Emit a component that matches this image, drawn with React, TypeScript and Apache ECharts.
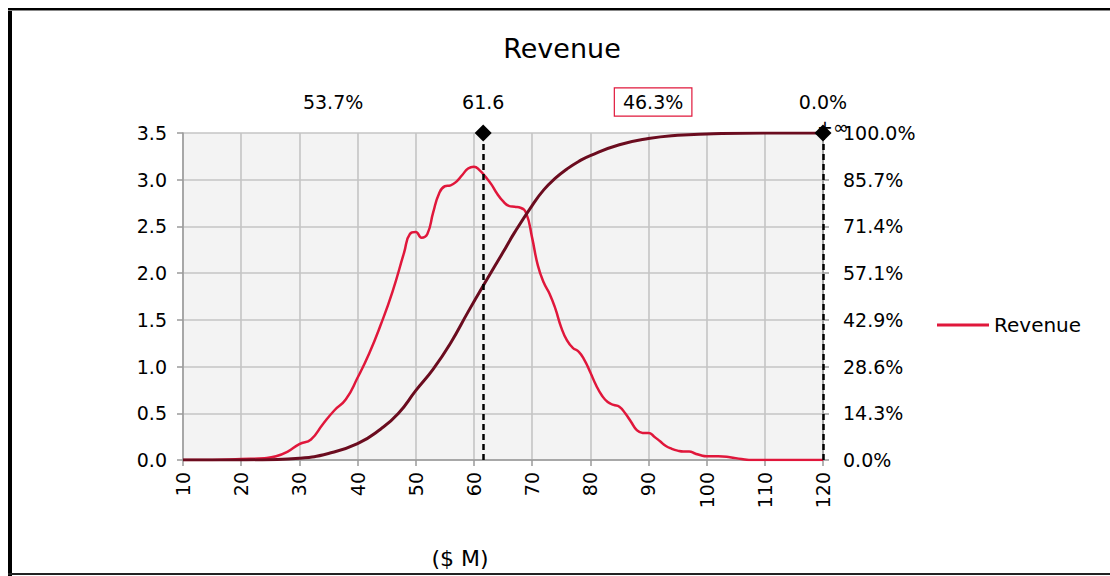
import React, { useEffect, useRef } from "react";
import * as echarts from "echarts";

// ---- data ----
const pdfX = [10, 15, 20, 24, 26, 28, 30, 32, 34, 36, 38, 40, 42, 44, 46, 48, 49, 50, 51, 52, 53, 54, 55, 56, 57, 58, 59, 60, 61, 62, 63, 64, 65, 66, 67, 68, 69, 70, 71, 72, 73, 74, 75, 76, 77, 78, 79, 80, 81, 82, 83, 84, 85, 86, 87, 88, 89, 90, 91, 92, 93, 94, 95, 96, 97, 98, 99, 100, 102, 104, 106, 108, 110, 115, 120];
const pdfY = [0, 0, 0.01, 0.02, 0.04, 0.09, 0.17, 0.22, 0.38, 0.53, 0.65, 0.88, 1.14, 1.45, 1.8, 2.22, 2.42, 2.44, 2.38, 2.42, 2.65, 2.85, 2.93, 2.94, 2.98, 3.05, 3.12, 3.14, 3.1, 3.03, 2.95, 2.85, 2.77, 2.72, 2.71, 2.7, 2.64, 2.38, 2.08, 1.9, 1.78, 1.62, 1.42, 1.28, 1.2, 1.16, 1.07, 0.94, 0.8, 0.69, 0.62, 0.59, 0.57, 0.5, 0.41, 0.32, 0.29, 0.29, 0.25, 0.2, 0.15, 0.12, 0.1, 0.09, 0.09, 0.07, 0.05, 0.04, 0.04, 0.03, 0.01, 0, 0, 0, 0];

const cdfX = [10, 20, 25, 30, 35, 40, 44, 47, 50, 53, 56, 59, 62, 65, 67, 70, 72, 74, 76, 78, 80, 85, 90, 95, 100, 110, 120];
const cdfY = [0, 0.02, 0.1, 0.5, 2.0, 5.0, 9.5, 14.2, 21.2, 27.8, 35.8, 45.3, 54.5, 63.5, 69.6, 77.8, 82.6, 86.2, 89.0, 91.3, 93.1, 96.4, 98.3, 99.3, 99.7, 100, 100];

const xMin = 10;
const xMax = 120;
const cutValue = 61.6;
const leftPct = "53.7%";
const rightPct = "46.3%";
const tailPct = "0.0%";
const leftTicks = { min: 0, max: 3.5, interval: 0.5 };
const rightTicks = { min: 0, max: 100, interval: 100 / 7 };

const FONT = "'DejaVu Sans', Verdana, sans-serif";
const RED = "#e0173b";
const DARK = "#6b0c1f";
const AXIS = "#9a9a9a";
const GRIDC = "#c4c4c4";

export default function App() {
  const ref = useRef<HTMLDivElement>(null);
  useEffect(() => {
    if (!ref.current) return;
    const chart = echarts.init(ref.current, undefined, { renderer: "svg" });
    const top = leftTicks.max;
    chart.setOption({
      animation: false,
      backgroundColor: "#ffffff",
      textStyle: { fontFamily: FONT },
      grid: {
        left: 183,
        right: 287,
        top: 133,
        bottom: 116,
        show: true,
        backgroundColor: "#f3f3f3",
        borderWidth: 0,
      },
      legend: {
        data: [{ name: "Revenue", icon: "rect" }],
        left: 937,
        top: 315,
        padding: 0,
        itemWidth: 52,
        itemHeight: 3,
        textStyle: { fontSize: 20, color: "#000", fontFamily: FONT },
      },
      xAxis: {
        type: "value",
        min: xMin,
        max: xMax,
        interval: 10,
        axisLine: { show: true, lineStyle: { color: AXIS, width: 1.5 } },
        axisTick: { show: true, length: 6, lineStyle: { color: AXIS, width: 1.5 } },
        splitLine: { show: true, lineStyle: { color: GRIDC, width: 1.6 } },
        axisLabel: { rotate: 90, margin: 12, fontSize: 19, color: "#000", fontFamily: FONT },
      },
      yAxis: [
        {
          type: "value",
          min: leftTicks.min,
          max: leftTicks.max,
          interval: leftTicks.interval,
          axisLine: { show: true, lineStyle: { color: AXIS, width: 1.5 } },
          axisTick: { show: true, length: 6, lineStyle: { color: AXIS, width: 1.5 } },
          splitLine: { show: true, lineStyle: { color: GRIDC, width: 1.6 } },
          axisLabel: {
            margin: 16,
            fontSize: 19,
            color: "#000",
            fontFamily: FONT,
            formatter: (v: number) => v.toFixed(1),
          },
        },
        {
          type: "value",
          min: rightTicks.min,
          max: rightTicks.max,
          interval: rightTicks.interval,
          position: "right",
          axisLine: { show: true, lineStyle: { color: AXIS, width: 1.5 } },
          axisTick: { show: true, length: 6, lineStyle: { color: AXIS, width: 1.5 } },
          splitLine: { show: false },
          axisLabel: {
            margin: 20,
            fontSize: 19,
            color: "#000",
            fontFamily: FONT,
            formatter: (v: number) => v.toFixed(1) + "%",
          },
        },
      ],
      series: [
        {
          name: "Revenue",
          type: "line",
          yAxisIndex: 0,
          smooth: true,
          symbol: "none",
          color: RED,
          lineStyle: { color: RED, width: 2.5 },
          data: pdfX.map((x, i) => [x, pdfY[i]]),
          z: 3,
        },
        {
          name: "Cumulative",
          type: "line",
          yAxisIndex: 1,
          smooth: true,
          symbol: "none",
          color: DARK,
          lineStyle: { color: DARK, width: 3 },
          data: cdfX.map((x, i) => [x, cdfY[i]]),
          z: 4,
        },
        {
          name: "markers",
          type: "scatter",
          yAxisIndex: 0,
          symbol: "diamond",
          symbolSize: 17,
          clip: false,
          itemStyle: { color: "#000", opacity: 1 },
          data: [
            [cutValue, top],
            [xMax, top],
          ],
          z: 10,
          markLine: {
            silent: true,
            symbol: "none",
            label: { show: false },
            lineStyle: { color: "#000", type: [6, 4], width: 2.5, opacity: 1 },
            data: [{ xAxis: cutValue }, { xAxis: xMax }],
            z: 9,
          },
        },
      ],
    });

    const px = (x: number, y: number) => chart.convertToPixel({ xAxisIndex: 0, yAxisIndex: 0 }, [x, y]) as number[];
    const labelY = px(xMin, top)[1] - 31;
    const topLabels = [
      { x: (xMin + cutValue) / 2, text: leftPct, boxed: false },
      { x: cutValue, text: String(cutValue), boxed: false },
      { x: (cutValue + xMax) / 2, text: rightPct, boxed: true },
      { x: xMax, text: tailPct, boxed: false },
    ];
    const corner = px(xMax, top);
    chart.setOption({
      graphic: [
        ...topLabels.map((l) => ({
          type: "text",
          x: px(l.x, top)[0],
          y: labelY,
          z: 20,
          style: {
            text: l.text,
            font: `19px ${FONT}`,
            fill: "#000",
            align: "center",
            verticalAlign: "middle",
            ...(l.boxed
              ? { borderColor: RED, borderWidth: 1.2, padding: [5, 8, 3, 8], backgroundColor: "#fff" }
              : {}),
          },
        })),
        {
          type: "text",
          x: 562,
          y: 48,
          style: { text: "Revenue", font: `27px ${FONT}`, fill: "#000", align: "center", verticalAlign: "middle" },
        },
        {
          type: "text",
          x: corner[0] - 6,
          y: corner[1] - 6,
          z: 5,
          style: { text: "+∞", font: `19px ${FONT}`, fill: "#000", verticalAlign: "middle" },
        },
        {
          type: "text",
          x: 460,
          y: 558,
          style: { text: "($ M)", font: `22px ${FONT}`, fill: "#000", align: "center", verticalAlign: "middle" },
        },
        { type: "rect", shape: { x: 8, y: 8, width: 4, height: 568 }, style: { fill: "#000" } },
        { type: "rect", shape: { x: 8, y: 8, width: 1110, height: 2 }, style: { fill: "#000" } },
        { type: "rect", shape: { x: 8, y: 10, width: 1110, height: 1 }, style: { fill: "#888" } },
        { type: "rect", shape: { x: 8, y: 573, width: 1110, height: 2 }, style: { fill: "#222" } },
      ],
    });
    return () => chart.dispose();
  }, []);
  return (
    <div
      ref={ref}
      style={{ position: "fixed", left: 0, top: 0, width: 1110, height: 576, overflow: "hidden", background: "#fff" }}
    />
  );
}
